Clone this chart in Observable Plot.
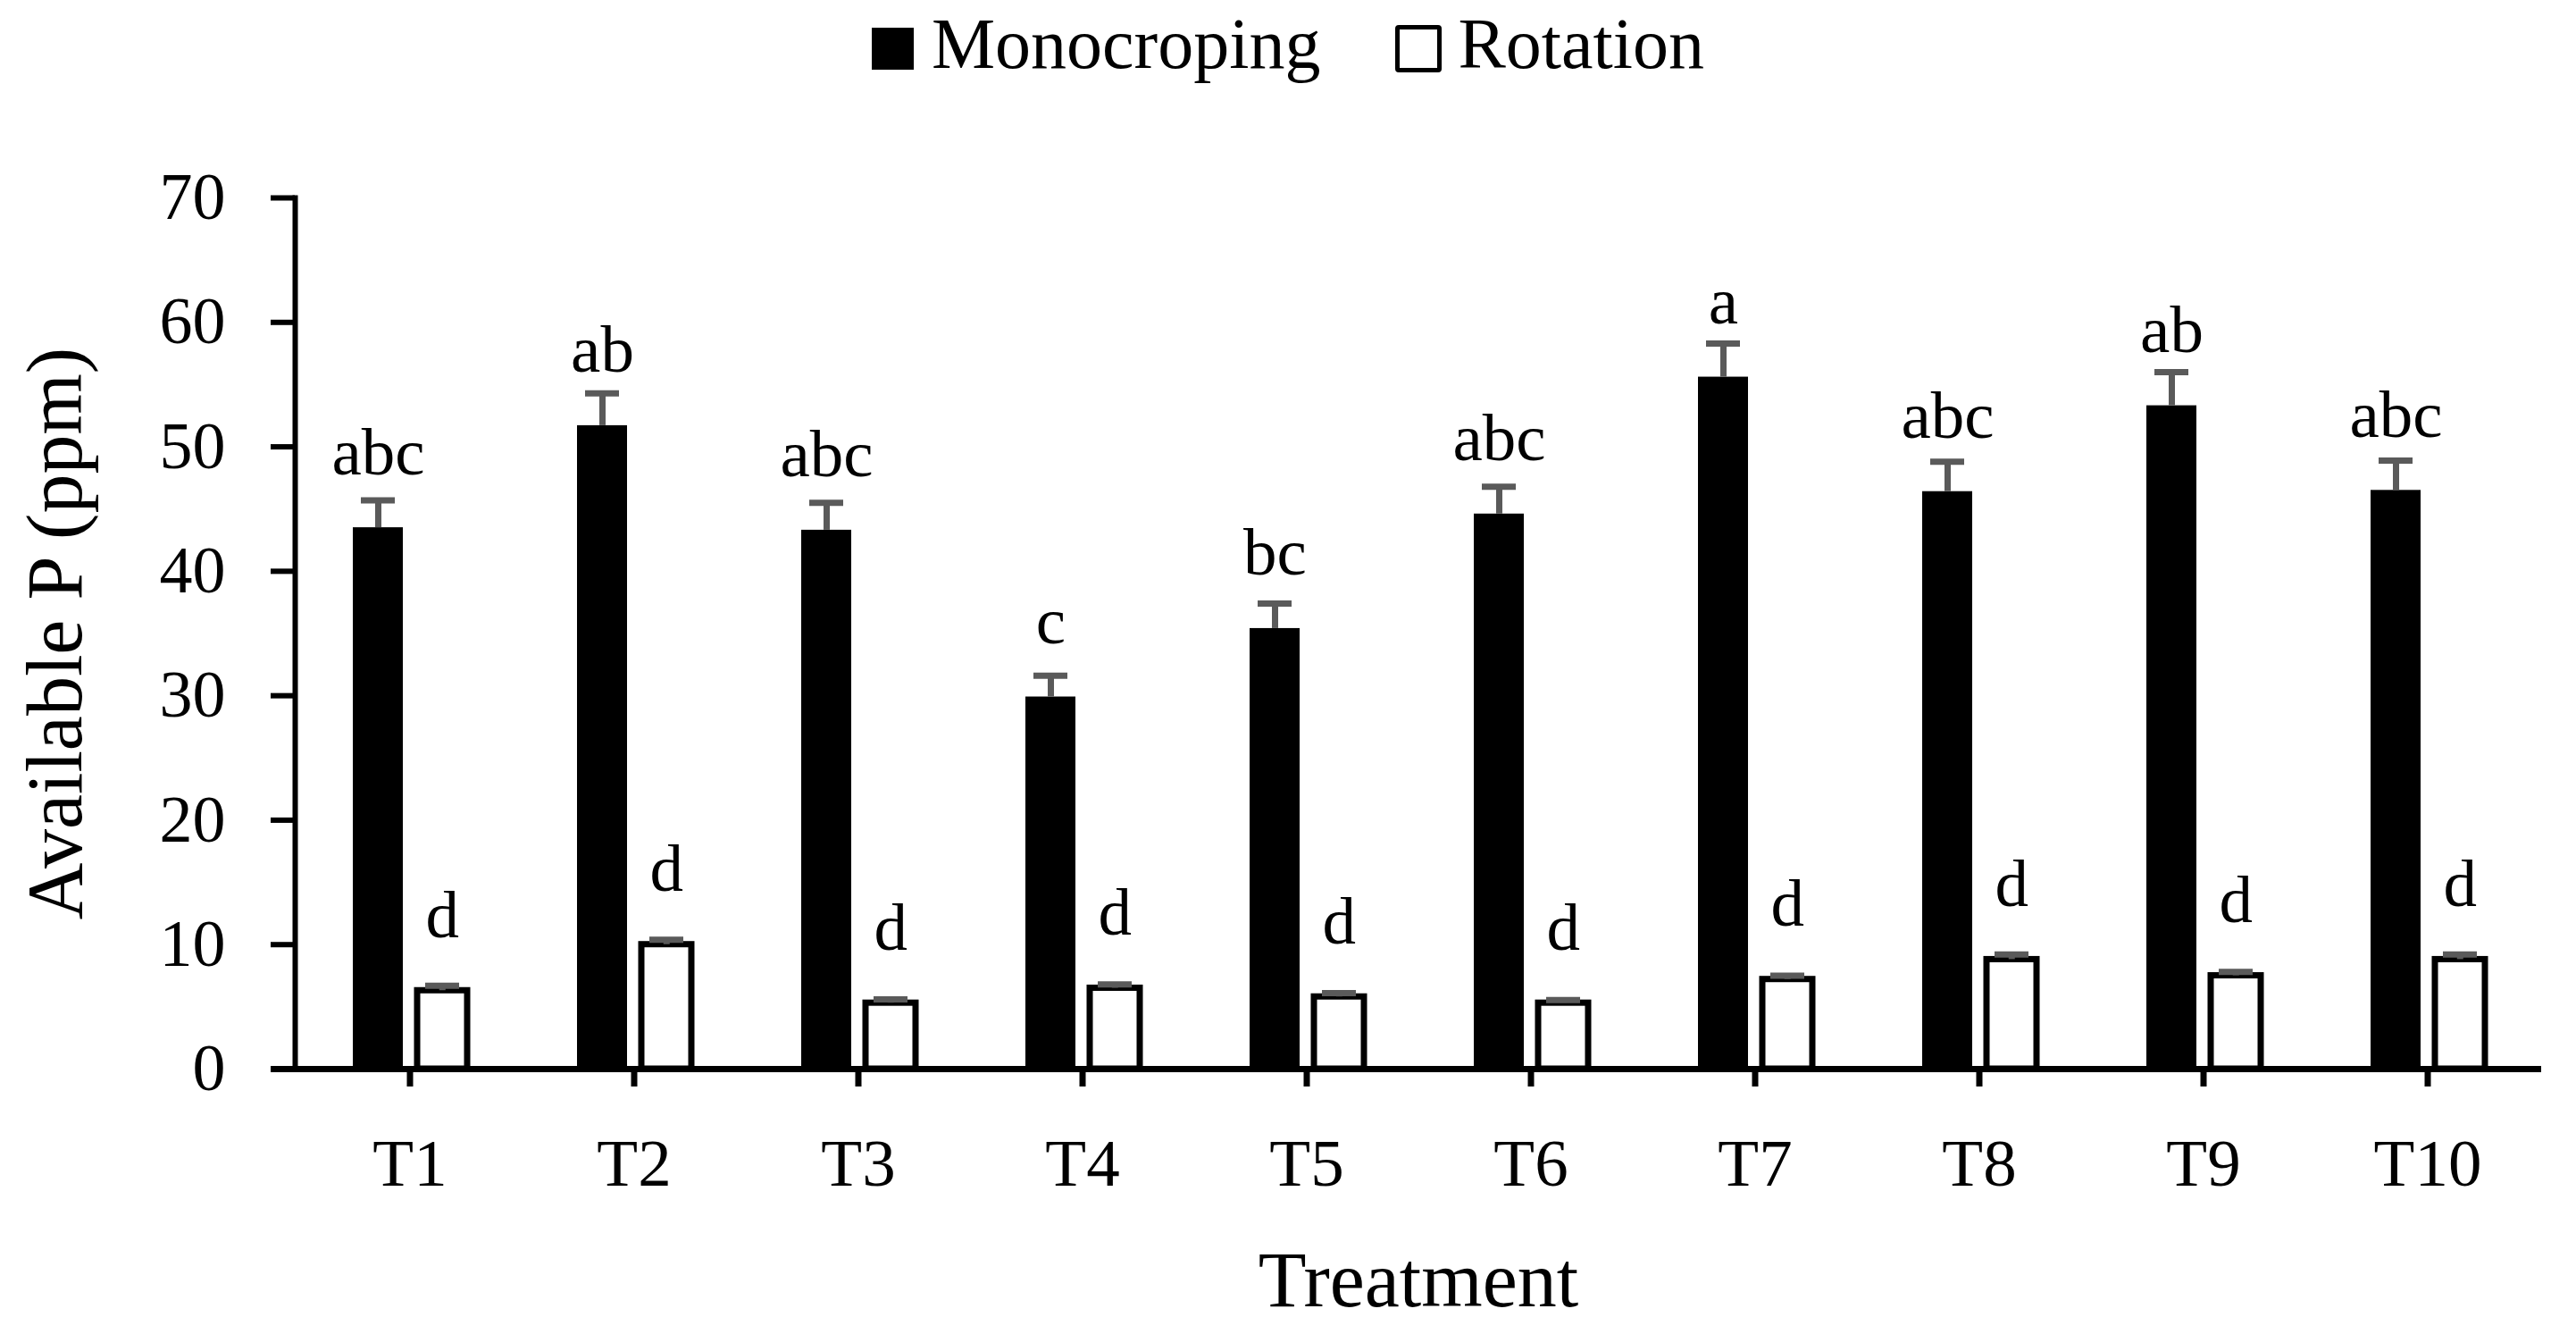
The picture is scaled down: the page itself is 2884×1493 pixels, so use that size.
<!DOCTYPE html>
<html>
<head>
<meta charset="utf-8">
<script src="https://cdn.jsdelivr.net/npm/d3@7"></script>
<script src="https://cdn.jsdelivr.net/npm/@observablehq/plot@0.6"></script>
<style>
  html, body { margin: 0; padding: 0; background: #fff; }
  body { width: 2884px; height: 1493px; overflow: hidden; font-family: "Liberation Serif", serif; color: #000; }
  #legend { position: relative; height: 110px; display: flex; justify-content: center; align-items: flex-start; font-size: 80px; line-height: 80px; }
  #legend .row { display: flex; align-items: flex-start; margin-top: 9px; }
  #legend .sw1 { width: 47px; height: 47px; background: #000; margin-top: 22px; margin-right: 20px; }
  #legend .sw2 { width: 42px; height: 43px; border: 5px solid #000; border-radius: 4px; background: #fff; margin-top: 19px; margin-right: 18px; margin-left: 84px; }
  #chart svg { display: block; }
</style>
</head>
<body>
<div id="legend"><div class="row"><div class="sw1"></div><span id="l1"></span><div class="sw2"></div><span id="l2"></span></div></div>
<div id="chart"></div>
<script>
const treatments = ["T1", "T2", "T3", "T4", "T5", "T6", "T7", "T8", "T9", "T10"];
const seriesNames = ["Monocroping", "Rotation"];
const monoValues = [43.5, 51.7, 43.3, 29.9, 35.4, 44.6, 55.6, 46.4, 53.3, 46.5];
const monoErrors = [2.2, 2.6, 2.2, 1.7, 2.0, 2.2, 2.7, 2.4, 2.7, 2.4];
const rotValues = [6.3, 10.0, 5.3, 6.5, 5.8, 5.3, 7.2, 8.8, 7.5, 8.8];
const rotErrors = [0.4, 0.4, 0.3, 0.3, 0.3, 0.25, 0.3, 0.4, 0.3, 0.4];
const monoLetters = ["abc", "ab", "abc", "c", "bc", "abc", "a", "abc", "ab", "abc"];
const rotLetters = ["d", "d", "d", "d", "d", "d", "d", "d", "d", "d"];
const yTicks = [0, 10, 20, 30, 40, 50, 60, 70];
const xTitle = "Treatment";
const yTitle = "Available P (ppm)";

document.getElementById("l1").textContent = seriesNames[0];
document.getElementById("l2").textContent = seriesNames[1];

const rows = treatments.map((t, i) => ({
  treatment: t,
  mono: monoValues[i], monoErr: monoErrors[i], monoTop: monoValues[i] + monoErrors[i],
  rot: rotValues[i], rotErr: rotErrors[i], rotTop: rotValues[i] + rotErrors[i],
  monoLetter: monoLetters[i], rotLetter: rotLetters[i]
}));

const errColor = "#5a5a5a";
const font = "Liberation Serif";

const chart = Plot.plot({
  width: 2884,
  height: 1383,
  marginTop: 111,
  marginBottom: 297,
  marginLeft: 330,
  marginRight: 39,
  style: { fontFamily: font, color: "#000", background: "#fff" },
  x: { type: "band", domain: treatments, padding: 0 },
  y: { domain: [0, 70] },
  marks: [
    Plot.barY(rows, { x: "treatment", y: "mono", fill: "#000", insetLeft: 62, insetRight: 133 }),
    Plot.barY(rows, { x: "treatment", y: "rot", fill: "#fff", stroke: "#000", strokeWidth: 7, insetLeft: 134, insetRight: 61 }),
    Plot.ruleX(rows, { x: "treatment", y1: "mono", y2: "monoTop", dx: -35.5, stroke: errColor, strokeWidth: 7 }),
    Plot.tickY(rows, { x: "treatment", y: "monoTop", insetLeft: 71, insetRight: 142, stroke: errColor, strokeWidth: 7 }),
    Plot.ruleX(rows, { x: "treatment", y1: "rot", y2: "rotTop", dx: 36.25, stroke: errColor, strokeWidth: 7 }),
    Plot.tickY(rows, { x: "treatment", y: "rotTop", insetLeft: 143, insetRight: 70, stroke: errColor, strokeWidth: 7 }),
    Plot.text(rows, { x: "treatment", y: "mono", text: "monoLetter", dx: -35.5, dy: -60, lineAnchor: "bottom", fontSize: 75, fill: "#000" }),
    Plot.text(rows, { x: "treatment", y: "rot", text: "rotLetter", dx: 36.25, dy: -60, lineAnchor: "bottom", fontSize: 75, fill: "#000" }),
    Plot.ruleY([0], { stroke: "#000", strokeWidth: 7, insetLeft: -27 }),
    Plot.frame({ anchor: "left", stroke: "#000", strokeWidth: 6 }),
    Plot.axisY({ ticks: yTicks, tickSize: 27, tickPadding: 51, fontSize: 74, strokeWidth: 6, label: null }),
    Plot.axisX({ tickSize: 20, tickPadding: 57, fontSize: 75, strokeWidth: 7, label: null }),
    Plot.text([yTitle], { frameAnchor: "left", rotate: -90, dx: -302, lineAnchor: "top", textAnchor: "middle", fontSize: 88, fill: "#000" }),
    Plot.text([xTitle], { frameAnchor: "bottom", dy: 203, lineAnchor: "top", textAnchor: "middle", fontSize: 88, fill: "#000" })
  ]
});
document.getElementById("chart").appendChild(chart);
</script>
</body>
</html>
